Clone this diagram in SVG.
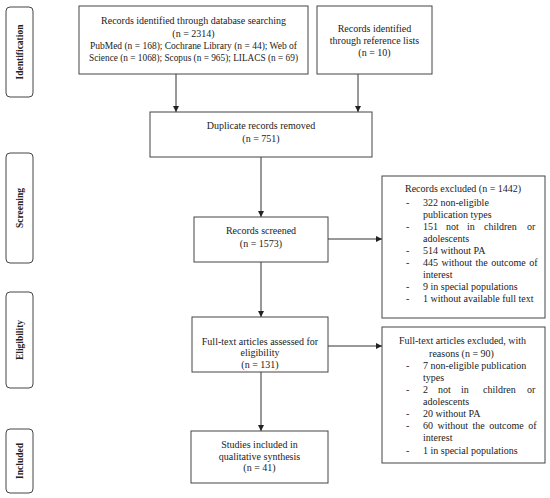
<svg xmlns="http://www.w3.org/2000/svg" width="550" height="498" viewBox="0 0 550 498">
<style>
.box{fill:#fff;stroke:#444;stroke-width:1}
.stage{fill:#fff;stroke:#444;stroke-width:1}
.t{font-family:"Liberation Serif","Times New Roman",serif;font-size:10px;fill:#222}
.c{text-anchor:middle}
.s{font-family:"Liberation Serif","Times New Roman",serif;font-size:9.5px;font-weight:bold;fill:#222;text-anchor:middle}
.ln{stroke:#333;stroke-width:1;fill:none}
</style>
<defs>
<marker id="ah" markerWidth="6" markerHeight="6" refX="6" refY="3" orient="auto" markerUnits="userSpaceOnUse">
<path d="M0,0 L6,3 L0,6 Z" fill="#222"/>
</marker>
</defs>
<rect width="550" height="498" fill="#fff"/>

<g id="stage-identification">
<rect class="stage" x="6" y="7" width="27" height="90" rx="4"/>
<text class="s" transform="translate(22.5,52) rotate(-90)">Identification</text>
</g>
<g id="stage-screening">
<rect class="stage" x="6" y="153" width="27" height="110" rx="4"/>
<text class="s" transform="translate(22.5,208) rotate(-90)">Screening</text>
</g>
<g id="stage-eligibility">
<rect class="stage" x="6" y="292" width="27" height="96" rx="4"/>
<text class="s" transform="translate(22.5,340) rotate(-90)">Eligibility</text>
</g>
<g id="stage-included">
<rect class="stage" x="6" y="429" width="27" height="64" rx="4"/>
<text class="s" transform="translate(22.5,461) rotate(-90)">Included</text>
</g>

<g id="connectors">
<line class="ln" x1="176" y1="74" x2="176" y2="112" marker-end="url(#ah)"/>
<line class="ln" x1="358" y1="74" x2="358" y2="112" marker-end="url(#ah)"/>
<line class="ln" x1="261" y1="157" x2="261" y2="217" marker-end="url(#ah)"/>
<line class="ln" x1="328" y1="239" x2="382" y2="239" marker-end="url(#ah)"/>
<line class="ln" x1="261" y1="262" x2="261" y2="317" marker-end="url(#ah)"/>
<line class="ln" x1="328" y1="346" x2="382" y2="346" marker-end="url(#ah)"/>
<line class="ln" x1="261" y1="372" x2="261" y2="431" marker-end="url(#ah)"/>
</g>

<g id="db-search">
<rect class="box" x="79" y="6" width="229" height="68"/>
<text class="t c" x="193.5" y="24">Records identified through database searching</text>
<text class="t c" x="193.5" y="36.5">(n = 2314)</text>
<text class="t c" x="193.5" y="48.5" textLength="207" lengthAdjust="spacingAndGlyphs">PubMed (n = 168); Cochrane Library (n = 44); Web of</text>
<text class="t c" x="193.5" y="60.5" textLength="209" lengthAdjust="spacingAndGlyphs">Science (n = 1068); Scopus (n = 965); LILACS (n = 69)</text>
</g>

<g id="ref-lists">
<rect class="box" x="317" y="6" width="115" height="68"/>
<text class="t c" x="374.5" y="32">Records identified</text>
<text class="t c" x="374.5" y="44">through reference lists</text>
<text class="t c" x="374.5" y="55.5">(n = 10)</text>
</g>

<g id="duplicates">
<rect class="box" x="150" y="112" width="222" height="45"/>
<text class="t c" x="261" y="129">Duplicate records removed</text>
<text class="t c" x="261" y="141.5">(n = 751)</text>
</g>

<g id="screened">
<rect class="box" x="194" y="217" width="134" height="45"/>
<text class="t c" x="261" y="233.5">Records screened</text>
<text class="t c" x="261" y="247">(n = 1573)</text>
</g>

<g id="records-excluded">
<rect class="box" x="382" y="176" width="163" height="142"/>
<text class="t" x="405" y="192">Records excluded (n = 1442)</text>
<text class="t" x="406" y="206">-</text><text class="t" x="423" y="206">322 non-eligible</text>
<text class="t" x="423" y="218">publication types</text>
<text class="t" x="406" y="230">-</text><text class="t" y="230"><tspan x="423">151</tspan><tspan x="446">not</tspan><tspan x="467">in</tspan><tspan x="484">children</tspan><tspan x="527">or</tspan></text>
<text class="t" x="423" y="242">adolescents</text>
<text class="t" x="406" y="254">-</text><text class="t" x="423" y="254">514 without PA</text>
<text class="t" x="406" y="266">-</text><text class="t" x="423" y="266" word-spacing="1">445 without the outcome of</text>
<text class="t" x="423" y="278">interest</text>
<text class="t" x="406" y="290">-</text><text class="t" x="423" y="290">9 in special populations</text>
<text class="t" x="406" y="302">-</text><text class="t" x="423" y="302">1 without available full text</text>
</g>

<g id="fulltext">
<rect class="box" x="192" y="317" width="136" height="55"/>
<text class="t c" x="260" y="344.5">Full-text articles assessed for</text>
<text class="t c" x="260" y="356">eligibility</text>
<text class="t c" x="260" y="367.5">(n = 131)</text>
</g>

<g id="fulltext-excluded">
<rect class="box" x="382" y="327" width="163" height="136"/>
<text class="t c" x="462.5" y="344">Full-text articles excluded, with</text>
<text class="t c" x="461.5" y="357">reasons (n = 90)</text>
<text class="t" x="406" y="369">-</text><text class="t" x="423" y="369">7 non-eligible publication</text>
<text class="t" x="423" y="381">types</text>
<text class="t" x="406" y="393">-</text><text class="t" y="393"><tspan x="423">2</tspan><tspan x="438">not</tspan><tspan x="461">in</tspan><tspan x="483">children</tspan><tspan x="527">or</tspan></text>
<text class="t" x="423" y="405">adolescents</text>
<text class="t" x="406" y="417">-</text><text class="t" x="423" y="417">20 without PA</text>
<text class="t" x="406" y="429">-</text><text class="t" x="423" y="429" word-spacing="2">60 without the outcome of</text>
<text class="t" x="423" y="441">interest</text>
<text class="t" x="406" y="454">-</text><text class="t" x="423" y="454">1 in special populations</text>
</g>

<g id="included-studies">
<rect class="box" x="191" y="431" width="137" height="52"/>
<text class="t c" x="259.5" y="448">Studies included in</text>
<text class="t c" x="259.5" y="459.5">qualitative synthesis</text>
<text class="t c" x="259.5" y="471">(n = 41)</text>
</g>
</svg>
